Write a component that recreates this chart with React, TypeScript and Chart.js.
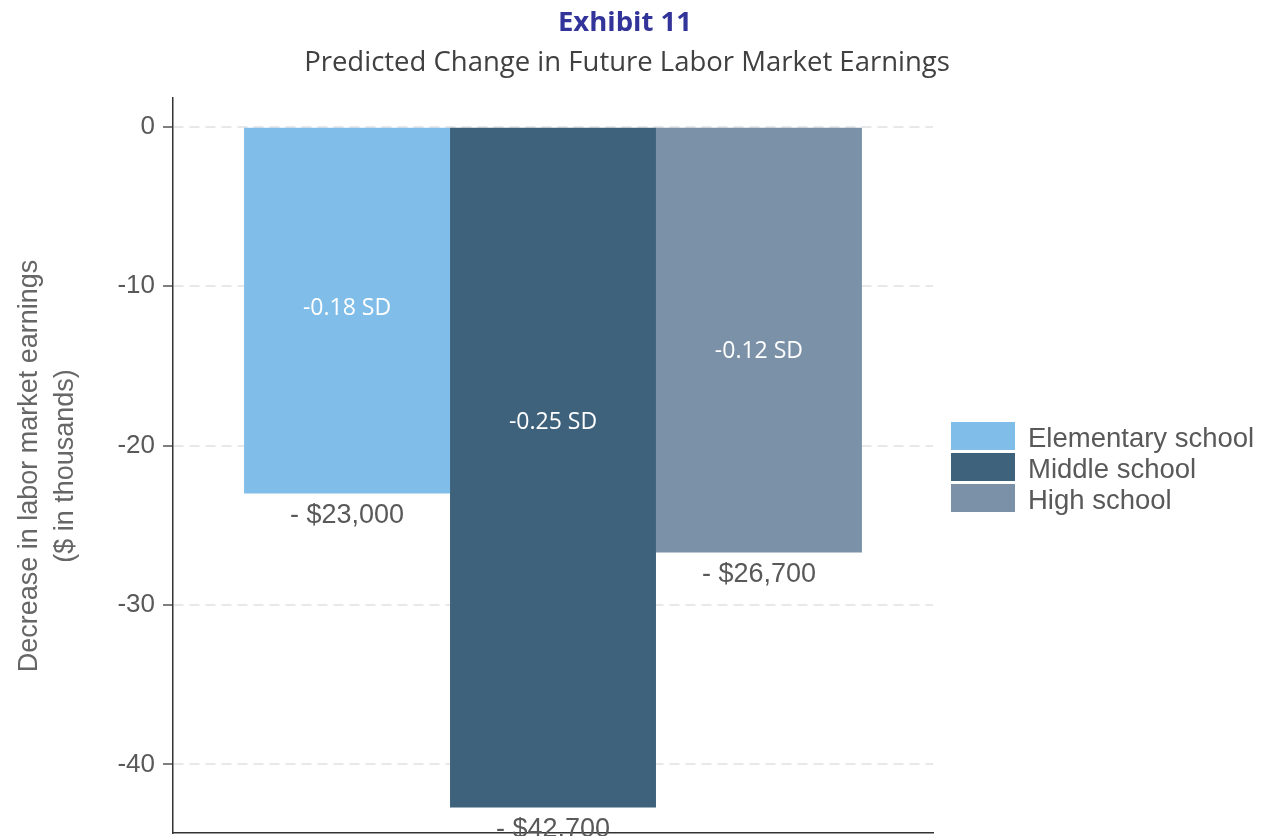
import React, { useEffect, useRef } from "react";
import { Chart, registerables } from "chart.js";

Chart.register(...registerables);

// ---- data ----
const categories = ["Predicted change"];
const seriesNames = ["Elementary school", "Middle school", "High school"];
const earningsThousands = [-23.0, -42.7, -26.7];
const sdEffects = [-0.18, -0.25, -0.12];
const yTickValues = [0, -10, -20, -30, -40];
const titleText = "Exhibit 11";
const subtitleText = "Predicted Change in Future Labor Market Earnings";
const yAxisTitle = ["Decrease in labor market earnings", "($ in thousands)"];

// ---- styles ----
const colors = ["#80bde9", "#3e627c", "#7b91a8"];
const sdLabelFraction = [0.494, 0.434, 0.527];
const ARIAL = "'Liberation Sans', Arial, sans-serif";
const SEGOE = "'Open Sans', 'Noto Sans', sans-serif";
const GREY = "#595959";

const overlayPlugin = {
  id: "overlay",
  afterDatasetsDraw(chart: any) {
    const ctx = chart.ctx;
    ctx.save();
    chart.data.datasets.forEach((ds: any, i: number) => {
      const meta = chart.getDatasetMeta(i);
      meta.data.forEach((bar: any) => {
        const { x, y, base } = bar.getProps(["x", "y", "base"], true);
        ctx.fillStyle = "#ffffff";
        ctx.font = `23px ${SEGOE}`;
        ctx.textAlign = "center";
        ctx.textBaseline = "middle";
        const ly = base + (y - base) * sdLabelFraction[i];
        ctx.fillText(`${sdEffects[i].toFixed(2)} SD`, x, ly);
        ctx.fillStyle = GREY;
        ctx.font = `27px ${ARIAL}`;
        const v = Math.round(Math.abs(earningsThousands[i]) * 1000);
        ctx.fillText(`- $${v.toLocaleString("en-US")}`, x, y + 22);
      });
    });
    ctx.restore();
  },
  afterDraw(chart: any) {
    const ctx = chart.ctx;
    ctx.save();
    ctx.textAlign = "center";
    ctx.textBaseline = "middle";
    ctx.fillStyle = "#33349a";
    ctx.font = `bold 27.5px ${SEGOE}`;
    ctx.fillText(titleText, 625, 23);
    ctx.fillStyle = "#404040";
    ctx.font = `27.5px ${SEGOE}`;
    ctx.fillText(subtitleText, 627, 63);

    ctx.save();
    ctx.translate(0, 466);
    ctx.rotate(-Math.PI / 2);
    ctx.fillStyle = "#666666";
    ctx.font = `27px ${ARIAL}`;
    ctx.textAlign = "center";
    ctx.textBaseline = "middle";
    ctx.fillText(yAxisTitle[0], 0, 30);
    ctx.fillText(yAxisTitle[1], 0, 66);
    ctx.restore();

    const lx = 951;
    const ly0 = 422;
    chart.data.datasets.forEach((ds: any, i: number) => {
      const y = ly0 + i * 31;
      ctx.fillStyle = ds.backgroundColor;
      ctx.fillRect(lx, y, 64, 28);
      ctx.fillStyle = GREY;
      ctx.font = `27.5px ${ARIAL}`;
      ctx.textAlign = "left";
      ctx.textBaseline = "middle";
      ctx.fillText(ds.label, 1028, y + 17);
    });
    ctx.restore();
  },
};

export default function App() {
  const canvasRef = useRef<HTMLCanvasElement | null>(null);

  useEffect(() => {
    if (!canvasRef.current) return;
    const chart = new Chart(canvasRef.current, {
      type: "bar",
      data: {
        labels: categories,
        datasets: seriesNames.map((name, i) => ({
          label: name,
          data: [earningsThousands[i]],
          backgroundColor: colors[i],
          borderWidth: 0,
          barPercentage: 1,
          categoryPercentage: 0.813,
        })),
      },
      options: {
        responsive: false,
        animation: false,
        layout: { padding: { top: 98, right: 334, bottom: 3, left: 0 } },
        plugins: {
          legend: { display: false },
          title: { display: false },
          tooltip: { enabled: false },
        },
        scales: {
          x: {
            ticks: { display: false },
            grid: { display: false, drawTicks: false },
            border: { display: true, color: "#333333", width: 1.5 },
            afterFit: (s: any) => {
              s.height = 0;
              s.paddingLeft = 0;
              s.paddingRight = 0;
            },
          },
          y: {
            min: -44.3,
            max: 1.8,
            afterFit: (s: any) => {
              s.width = 173;
              s.paddingTop = 0;
              s.paddingBottom = 0;
            },
            afterBuildTicks: (s: any) => {
              s.ticks = yTickValues.map((v) => ({ value: v }));
            },
            ticks: {
              stepSize: 10,
              includeBounds: false,
              padding: 8,
              color: GREY,
              font: { family: ARIAL, size: 26 },
            },
            grid: {
              color: "#e8e8e8",
              lineWidth: 2,
              tickColor: "#555555",
              tickLength: 10,
              tickWidth: 1.5,
              tickBorderDash: [],
            },
            border: { display: true, color: "#333333", width: 1.5, dash: [10, 6] },
          },
        },
      },
      plugins: [overlayPlugin],
    } as any);
    return () => chart.destroy();
  }, []);

  return (
    <div style={{ position: "absolute", left: 0, top: 0, width: 1267, height: 836, background: "#fff" }}>
      <canvas ref={canvasRef} width={1267} height={836} style={{ display: "block" }} />
    </div>
  );
}
